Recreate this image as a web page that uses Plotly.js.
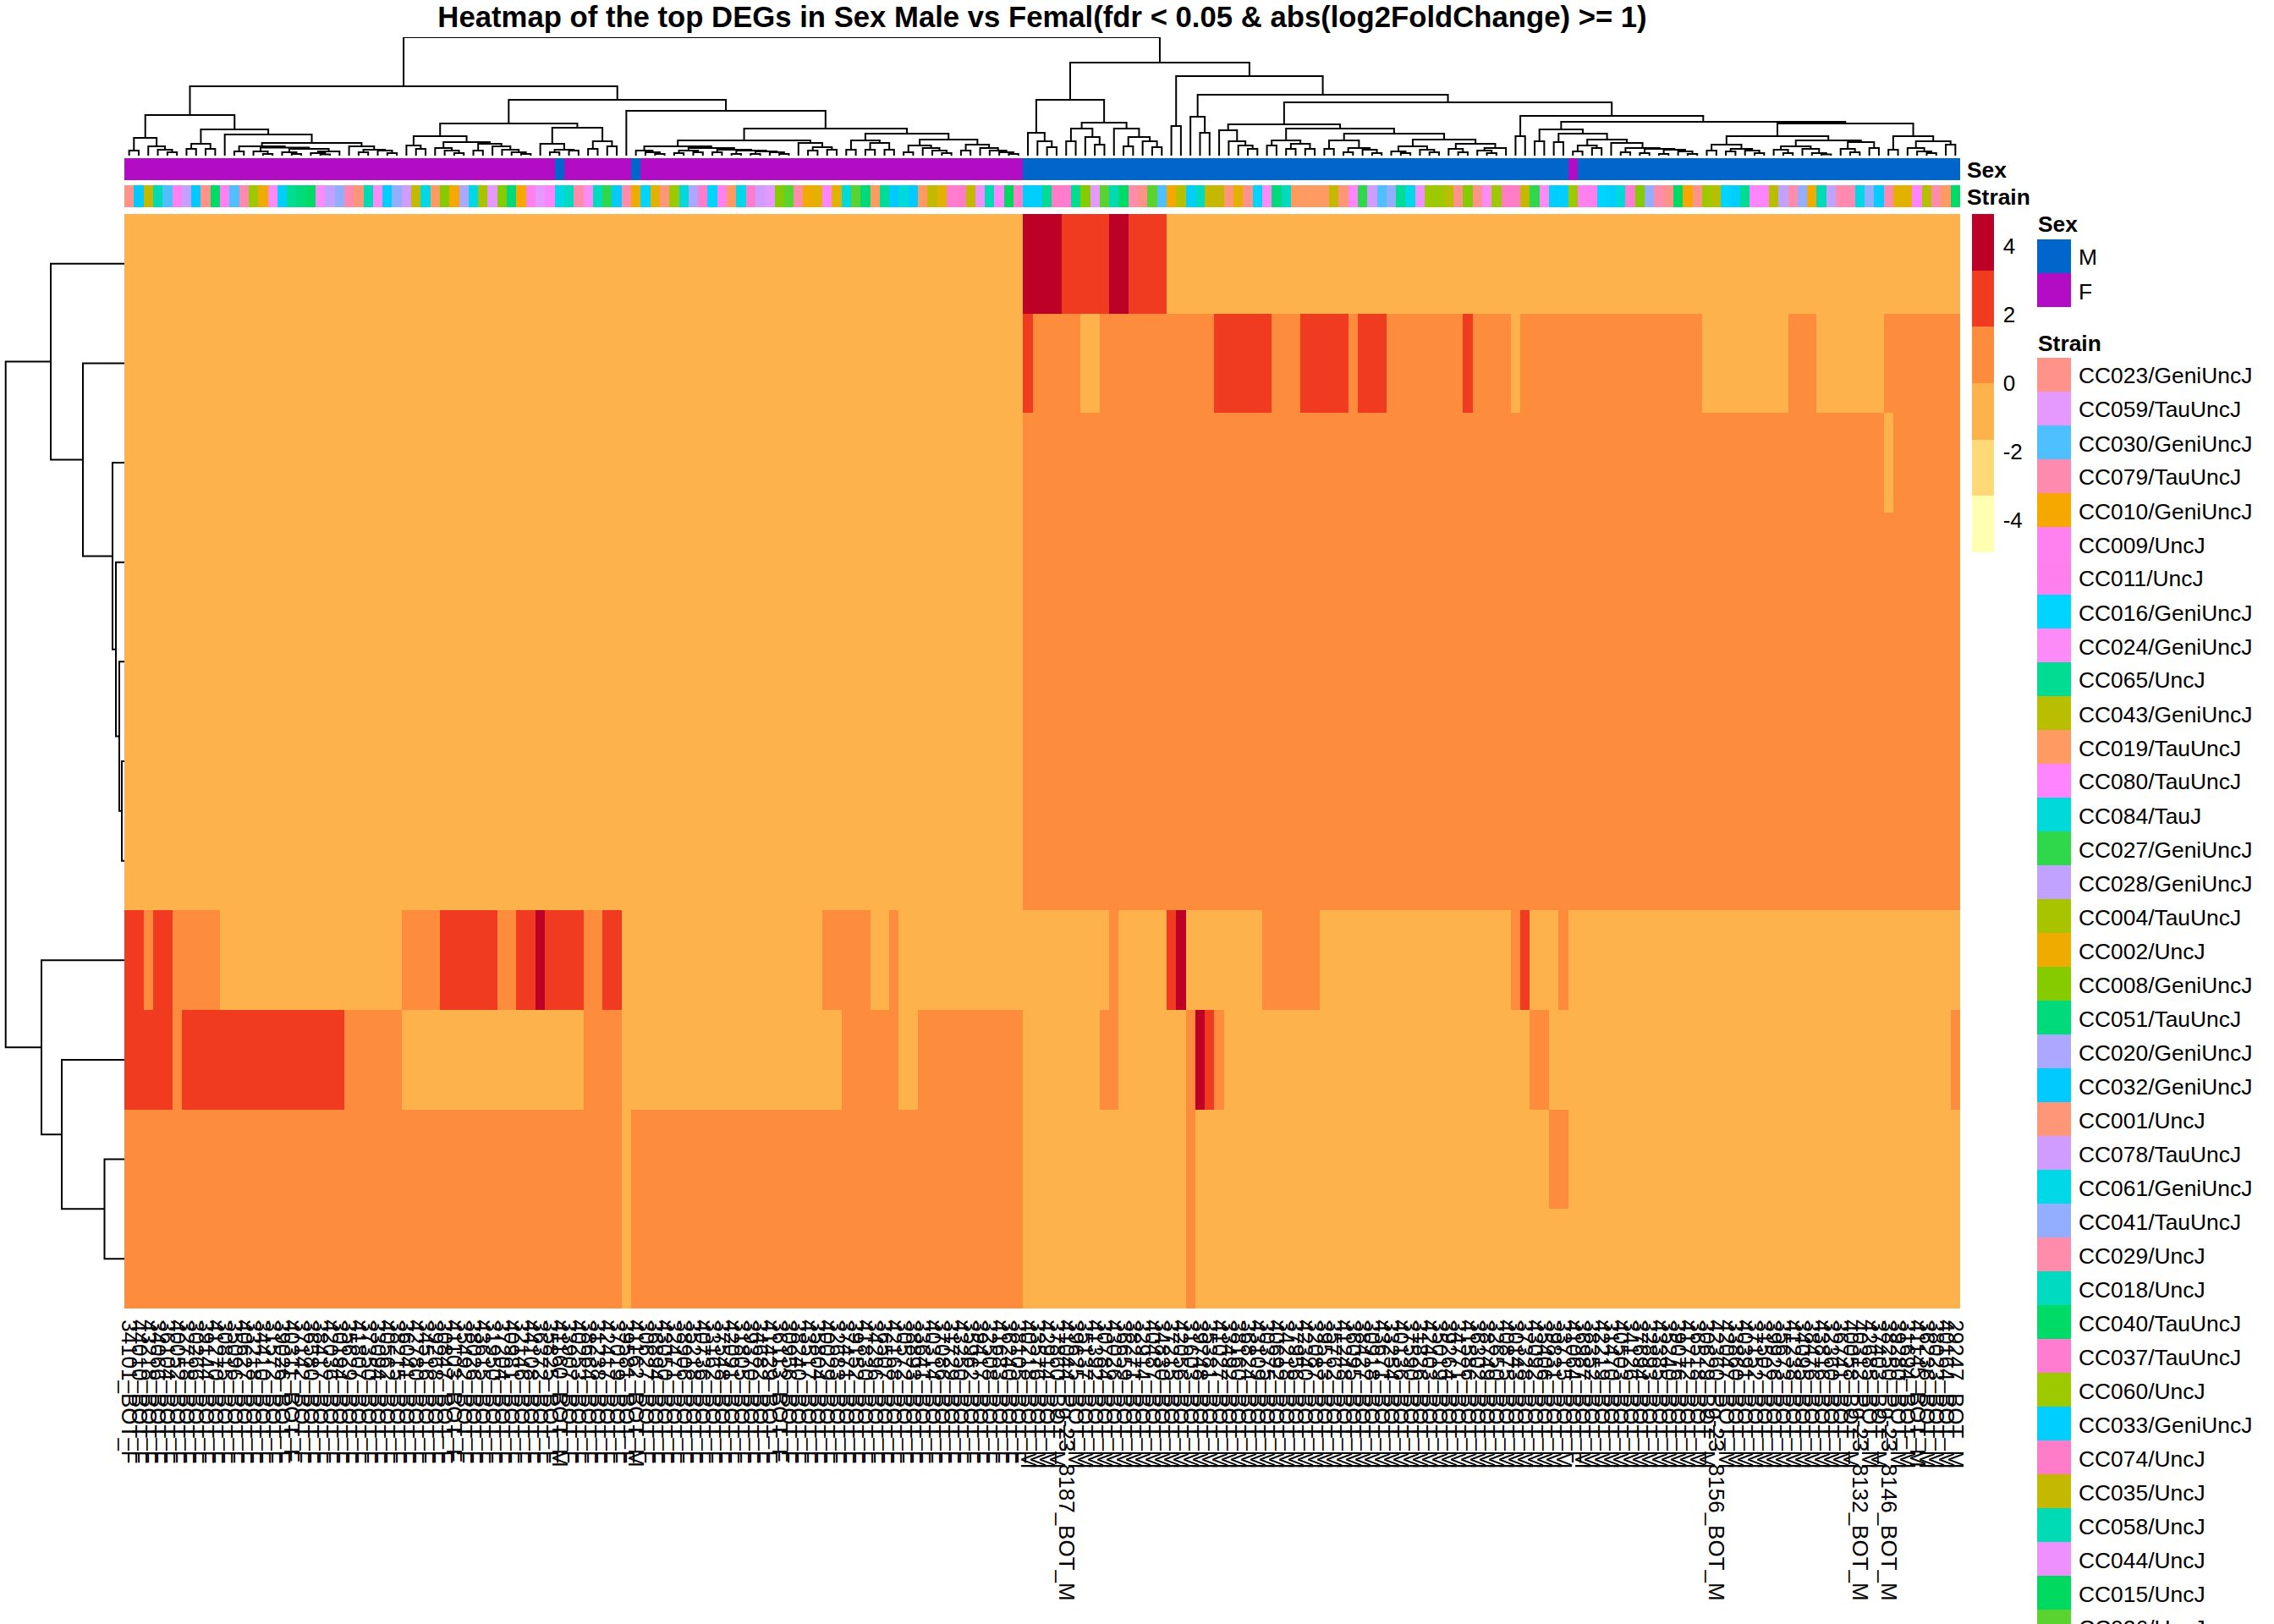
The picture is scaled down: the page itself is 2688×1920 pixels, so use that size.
<!DOCTYPE html>
<html><head><meta charset="utf-8">
<script src="https://cdn.plot.ly/plotly-3.0.1.min.js"></script>
<style>html,body{margin:0;padding:0;background:#fff}</style></head>
<body><div id="chart" style="width:2688px;height:1920px"></div>
<script>
const LO=-0.8, HI=0.8, RD=2.5, DK=4;
const geneRuns=[
 [[LO,94],[DK,4],[RD,5],[DK,2],[RD,4],[LO,83]],
 [[LO,94],[RD,1],[HI,5],[LO,2],[HI,12],[RD,6],[HI,3],[RD,5],[HI,1],[RD,3],[HI,8],[RD,1],[HI,4],[LO,1],[HI,19],[LO,9],[HI,3],[LO,7],[HI,8]],
 [[LO,94],[HI,90],[LO,1],[HI,7]],
 [[LO,94],[HI,98]],
 [[LO,94],[HI,98]],
 [[LO,94],[HI,98]],
 [[LO,94],[HI,98]],
 [[RD,2],[HI,1],[RD,2],[HI,5],[LO,19],[HI,4],[RD,6],[HI,2],[RD,2],[DK,1],[RD,4],[HI,2],[RD,2],[LO,21],[HI,5],[LO,2],[HI,1],[LO,22],[HI,1],[LO,5],[RD,1],[DK,1],[LO,8],[HI,6],[LO,20],[HI,1],[RD,1],[LO,3],[HI,1],[LO,41]],
 [[RD,5],[HI,1],[RD,17],[HI,6],[LO,19],[HI,4],[LO,23],[HI,6],[LO,2],[HI,11],[LO,8],[HI,2],[LO,7],[HI,1],[DK,1],[RD,1],[HI,1],[LO,32],[HI,2],[LO,42],[HI,1]],
 [[HI,52],[LO,1],[HI,41],[LO,17],[HI,1],[LO,37],[HI,2],[LO,41]],
 [[HI,52],[LO,1],[HI,41],[LO,17],[HI,1],[LO,80]]
];
const sexRuns=[["F",45],["M",1],["F",7],["M",1],["F",40],["M",57],["F",1],["M",40]];
const sexNames=["M","F"];
const sexColors=["#0066CC","#B20DC4"];
const strainNames=["CC023/GeniUncJ","CC059/TauUncJ","CC030/GeniUncJ","CC079/TauUncJ","CC010/GeniUncJ","CC009/UncJ","CC011/UncJ","CC016/GeniUncJ","CC024/GeniUncJ","CC065/UncJ","CC043/GeniUncJ","CC019/TauUncJ","CC080/TauUncJ","CC084/TauJ","CC027/GeniUncJ","CC028/GeniUncJ","CC004/TauUncJ","CC002/UncJ","CC008/GeniUncJ","CC051/TauUncJ","CC020/GeniUncJ","CC032/GeniUncJ","CC001/UncJ","CC078/TauUncJ","CC061/GeniUncJ","CC041/TauUncJ","CC029/UncJ","CC018/UncJ","CC040/TauUncJ","CC037/TauUncJ","CC060/UncJ","CC033/GeniUncJ","CC074/UncJ","CC035/UncJ","CC058/UncJ","CC044/UncJ","CC015/UncJ","CC026/UncJ","CC013/GeniUncJ"];
const strainColors=["#FF9289","#E599FF","#4FC0FF","#FF8AAF","#F6A800","#FF81EF","#FF7FEF","#00D4FF","#FC8BF8","#00DC91","#B8BF00","#FF9A62","#FF85FF","#00D9DA","#2FD84B","#C2A2FF","#A8C400","#F0AB00","#86CB00","#00DA7A","#ACA8FF","#00CAFF","#FF9677","#D09CFF","#00D8E8","#94AEFF","#FF8CAA","#00DAC0","#00DA66","#FF7CD0","#9DC900","#00CEFF","#FF7DC8","#C4B900","#00DAB5","#EF90FF","#00D95F","#5AD230","#E3B100"];
const sampleStrain=["CC023","CC032","CC035","CC058","CC030","CC009","CC028","CC032","CC023","CC040","CC009","CC030","CC079","CC060","CC002","CC024","CC033","CC065","CC051","CC040",
"CC024","CC028","CC041","CC079","CC001","CC058","CC024","CC033","CC041","CC078","CC035","CC061","CC019","CC008","CC010","CC020","CC061","CC004","CC059","CC008",
"CC051","CC010","CC009","CC059","CC080","CC061","CC018","CC029","CC024","CC018","CC027","CC032","CC029","CC002","CC016","CC013","CC001","CC060","CC084","CC020",
"CC037","CC016","CC009","CC019","CC061","CC037","CC078","CC059","CC008","CC026","CC029","CC002","CC013","CC080","CC013","CC084","CC026","CC051","CC019","CC065",
"CC032","CC084","CC032","CC019","CC035","CC013","CC037","CC074","CC035","CC044","CC058","CC080","CC015","CC074","CC033","CC033","CC065","CC074","CC037","CC065",
"CC008","CC059","CC026","CC058","CC040","CC029","CC023","CC026","CC030","CC010","CC043","CC033","CC018","CC035","CC035","CC001","CC013","CC023","CC016","CC024",
"CC051","CC018","CC019","CC019","CC019","CC019","CC035","CC001","CC080","CC027","CC078","CC030","CC041","CC065","CC061","CC044","CC060","CC060","CC043","CC023",
"CC008","CC023","CC024","CC060","CC074","CC074","CC035","CC027","CC024","CC033","CC033","CC060","CC009","CC011","CC016","CC033","CC084","CC037","CC008","CC041",
"CC029","CC023","CC040","CC010","CC023","CC060","CC043","CC016","CC033","CC065","CC080","CC080","CC043","CC028","CC029","CC041","CC002","CC058","CC028","CC079",
"CC079","CC061","CC041","CC033","CC079","CC013","CC013","CC080","CC043","CC029","CC019","CC040"];
const sampleIds=["34101","44010","43218","34066","36104","40052","32718","30266","39144","41270","30815","35096","40627","33218","34410","31572","39026","40311","37142","36580",
"38417","42036","30194","35629","41807","37350","33094","40562","38215","36041","42780","34516","39268","30847","41103","35492","38026","43615","31950","37204",
"40981","32146","44108","36372","35825","41160","33907","40253","38664","31238","42417","37019","39581","41162","30627","36894","43050","32471","38906","35218",
"40736","33162","37548","42091","31805","39370","34682","41429","36113","30956","38240","43517","35804","40029","32683","37471","39152","41830","34296","36507",
"42168","30572","38893","33641","40314","37086","31729","43250","35962","39417","32508","41683","36240","38105","40218","33576","42914","37860","41044_Pg-23_8187","39625",
"35137","41392","30784","43026","36659","38271","32914","40487","34830","37215","42056","31603","39748","35381","41027","33492","38160","36824","43109","30375",
"40692","34218","37956","42340","32087","39513","35762","41248","36095","38427","30918","43671","33254","40136","37590","31826","42403","35019","39264","34771",
"41586","36302","38749","32650","40875","30143","37328","43092","35406","39831","33715","41064","36987","38352","42219","31470","40503","34126","37694","32893",
"43385","35240","39076","41712","36518","30629","42360_Pg-23_8156","42047","33860","40391","37152","31507","39926","35673","41238","34095","38476","43816","32360","36741",
"40058","40312_Pg-23_8132","42685","37403","38250_Pg-23_8146","39280","31694","41145","36236","38023","40164","29247"];
const geneTree=[140.3,[87,0,[49,0,[14,0,[10,0,[6,0,[3,0,0]]]]]],[98,0,[74,0,[23.5,0,0]]]];
const nodeA=[21,[6,0,0],[11,0,[7,0,[4,0,0]]]];
const nodeXl=[11,[5,0,0],[9.5,[5,0,[2,0,0]],[8,[4,0,[2,0,0]],[5,[3,0,[1.5,0,0]],0]]]];
const nodeXr=[11,0,[7,[4,0,0],[6,0,[3,0,0]]]];
const nodeB=[31,[14,[8,0,0],[8,0,0]],[25,0,[15,nodeXl,nodeXr]]];
const treeL1=[48,nodeA,nodeB];
const treeL2a=[38,[23,[12,0,[8,0,0]],[16,[9,0,[6,0,[3,0,0]]],[14,[6,0,0],[11,0,[7,0,[4,0,[2,0,0]]]]]]],[33,[14,0,[7,[4,0,0],[6,0,0]]],[17,[8,0,0],[11,0,0]]]];
const nodeL2bA=[11,[6,0,[4,0,[2,0,0]]],[9,[6,[3,0,0],[4,0,0]],[7,[4,0,0],[6,[2,0,0],[5,[2,0,0],[4,0,[2,0,0]]]]]]];
const nodeL2bB=[15,0,[10,[6,0,0],[7,0,0]]];
const nodeL2bC=[18,[7,0,0],[15,[7,0,0],[7,0,0]]];
const nodeL2bD=[19,[12,[4,0,0],[9,0,[6,0,[3,0,0]]]],[13,[6,0,0],[9,0,[6,0,[4,0,[2,0,0]]]]]];
const treeL2b=[53,0,[32,[18,nodeL2bA,nodeL2bB],[26,nodeL2bC,nodeL2bD]]];
const treeR1=[66,[27,0,[17,0,[10,0,0]]],[39,[32,[17,0,0],[22,0,[13,0,0]]],[32,0,[22,[11,0,0],[17,0,[10,0,0]]]]]];
const nodeR2La=[30,0,[17,0,[12,0,[8,0,0]]]];
const nodeR2Lb=[18,[12,0,0],[14,[8,0,0],[8,0,0]]];
const nodeR2Lc=[18,[8,0,0],[9,[4,0,0],[7,0,[3,0,0]]]];
const nodeR2Ld=[19,[11,[5,0,[3,0,0]],[7,0,[4,0,0]]],[14,[8,0,[4,0,0]],[9,[6,0,[3,0,0]],0]]];
const treeR2L=[37,nodeR2La,[32,nodeR2Lb,[26,nodeR2Lc,nodeR2Ld]]];
const nodeC1=[12,[5,0,0],[9,0,0]];
const nodeC2=[15,0,[9,[4,0,0],[8,[3,0,0],[7,[2,0,0],[5,0,[2,0,0]]]]]];
const nodeC3=[31,[17,0,0],[26,[16,0,0],[19,nodeC1,nodeC2]]];
const nodeG1=[11,[7,0,[3,0,0]],[8,0,[3,0,[1.5,0,0]]]];
const nodeG2=[16,[8,0,[4,0,0]],[9,0,0]];
const nodeC4=[23,[13,[6,0,0],[8,[5,0,0],[6,0,[3,0,0]]]],[18,nodeG1,nodeG2]];
const nodeC5=[23,[7,0,0],[17,[9,0,[5,0,[3,0,0]]],[13,0,0]]];
const treeR2R=[47,[23,0,0],[40,nodeC3,[38,nodeC4,nodeC5]]];
const sampleTree=[140,[82,treeL1,[66,treeL2a,treeL2b]],[110,treeR1,[94,[35,0,0],[72,[46,0,[27,0,0]],[63,treeR2L,treeR2R]]]]];

const W=2688,H=1920,FONT="Liberation Sans, Arial, sans-serif";
const dx=(a,b)=>[a/W,b/W], dy=(a,b)=>[1-b/H,1-a/H];
const expand=r=>r.flatMap(([v,n])=>Array(n).fill(v));
const zGene=geneRuns.map(expand);
const sampleSex=sexRuns.flatMap(([s,n])=>Array(n).fill(s));
const steps=c=>c.flatMap((col,i)=>[[i/c.length,col],[(i+1)/c.length,col]]);
const strainCode=strainNames.map(s=>s.slice(0,5));
function treeLines(tree){
  let leaf=0; const a=[],h=[];
  (function walk(n){
    if(n===0) return {p:leaf++,h:0};
    const l=walk(n[1]), r=walk(n[2]);
    a.push(l.p,l.p,r.p,r.p,null); h.push(l.h,n[0],n[0],r.h,null);
    return {p:(l.p+r.p)/2,h:n[0]};
  })(tree);
  return {a,h,leaves:leaf};
}
const topTree=treeLines(sampleTree), sideTree=treeLines(geneTree);
const cols=[...Array(192).keys()];
const geneScale=steps(["#FFFFB2","#FED976","#FEB24C","#FD8D3C","#F03B20","#BD0026"]);
const common={hoverinfo:"skip",showscale:false};
const traces=[
 {type:"heatmap",x:cols,y:[...Array(11).keys()],z:zGene,xaxis:"x",yaxis:"y",zmin:-4.93,zmax:4.93,colorscale:geneScale,hoverinfo:"skip",showscale:true,
  colorbar:{x:2331/W,xanchor:"left",y:1-253/H,yanchor:"top",thicknessmode:"pixels",thickness:26,lenmode:"pixels",len:400,xpad:0,ypad:0,outlinewidth:0,borderwidth:0,
   tickmode:"array",tickvals:[-4,-2,0,2,4],ticktext:["-4","-2","0","2","4"],ticks:"outside",ticklen:6,tickwidth:1,tickcolor:"rgba(0,0,0,0)",tickfont:{family:FONT,size:26,color:"#000"}}},
 {type:"heatmap",x:cols,y:[0],z:[sampleSex.map(s=>sexNames.indexOf(s)+.5)],xaxis:"x",yaxis:"y2",zmin:0,zmax:sexNames.length,colorscale:steps(sexColors),...common},
 {type:"heatmap",x:cols,y:[0],z:[sampleStrain.map(s=>strainCode.indexOf(s)+.5)],xaxis:"x",yaxis:"y3",zmin:0,zmax:strainNames.length,colorscale:steps(strainColors),...common},
 {type:"scatter",mode:"lines",x:topTree.a,y:topTree.h,xaxis:"x",yaxis:"y4",line:{color:"#000",width:2,simplify:false},hoverinfo:"skip",showlegend:false,cliponaxis:false},
 {type:"scatter",mode:"lines",x:sideTree.h,y:sideTree.a,xaxis:"x2",yaxis:"y",line:{color:"#000",width:2,simplify:false},hoverinfo:"skip",showlegend:false,cliponaxis:false},
 {type:"heatmap",x:[0],y:[0,1],z:sexNames.map((s,i)=>[i+.5]),xaxis:"x3",yaxis:"y5",zmin:0,zmax:sexNames.length,colorscale:steps(sexColors),...common},
 {type:"heatmap",x:[0],y:strainNames.map((s,i)=>i),z:strainNames.map((s,i)=>[i+.5]),xaxis:"x3",yaxis:"y6",zmin:0,zmax:strainNames.length,colorscale:steps(strainColors),...common}
];
const hid={visible:false,showgrid:false,zeroline:false,fixedrange:true};
function txt(t,x,y,bold,size){return {text:t,xref:"paper",yref:"paper",x:x/W,y:1-y/H,xanchor:"left",yanchor:"middle",showarrow:false,borderpad:0,
  font:{family:FONT,size:size||26.4,color:"#000",weight:bold?"bold":"normal"}};}
const annotations=[txt("Sex",2324,201,true),txt("Strain",2324,233,true),txt("Sex",2408,265,true),txt("Strain",2408,405.5,true)];
sexNames.forEach((s,i)=>annotations.push(txt(s,2455.5,304.5+i*40)));
strainNames.slice(0,38).forEach((s,i)=>annotations.push(txt(s,2455.5,444.5+i*40)));
const layout={
 width:W,height:H,margin:{l:0,r:0,t:0,b:0},paper_bgcolor:"#fff",plot_bgcolor:"#fff",showlegend:false,
 title:{text:"Heatmap of the top DEGs in Sex Male vs Femal(fdr &lt; 0.05 &amp; abs(log2FoldChange) &gt;= 1)",x:1232/W,xanchor:"center",y:1-20/H,yanchor:"middle",font:{family:FONT,size:34.7,color:"#000",weight:"bold"}},
 xaxis:{domain:dx(147,2317),range:[-.5,191.5],anchor:"y",showgrid:false,zeroline:false,showline:false,tickmode:"array",tickvals:cols,ticktext:cols.map(i=>sampleIds[i]+"_BOT_"+sampleSex[i]),tickangle:90,ticks:"outside",ticklen:7,tickwidth:1,tickcolor:"rgba(0,0,0,0)",tickfont:{family:FONT,size:26,color:"#000"},fixedrange:true},
 yaxis:{...hid,domain:dy(253,1547),range:[10.5,-.5],anchor:"x"},
 yaxis2:{...hid,domain:dy(187,213),range:[-.5,.5],anchor:"x"},
 yaxis3:{...hid,domain:dy(219,245),range:[-.5,.5],anchor:"x"},
 yaxis4:{...hid,domain:dy(44,184),range:[0,140],anchor:"x"},
 xaxis2:{...hid,domain:dx(0,147),range:[147,0],anchor:"y"},
 xaxis3:{...hid,domain:dx(2408,2448),range:[-.5,.5],anchor:"y5"},
 yaxis5:{...hid,domain:dy(283,363),range:[1.5,-.5],anchor:"x3"},
 yaxis6:{...hid,domain:dy(423,1920),range:[36.925,-.5],anchor:"x3"},
 annotations
};
Plotly.newPlot("chart",traces,layout,{displayModeBar:false,responsive:false});
</script></body></html>
